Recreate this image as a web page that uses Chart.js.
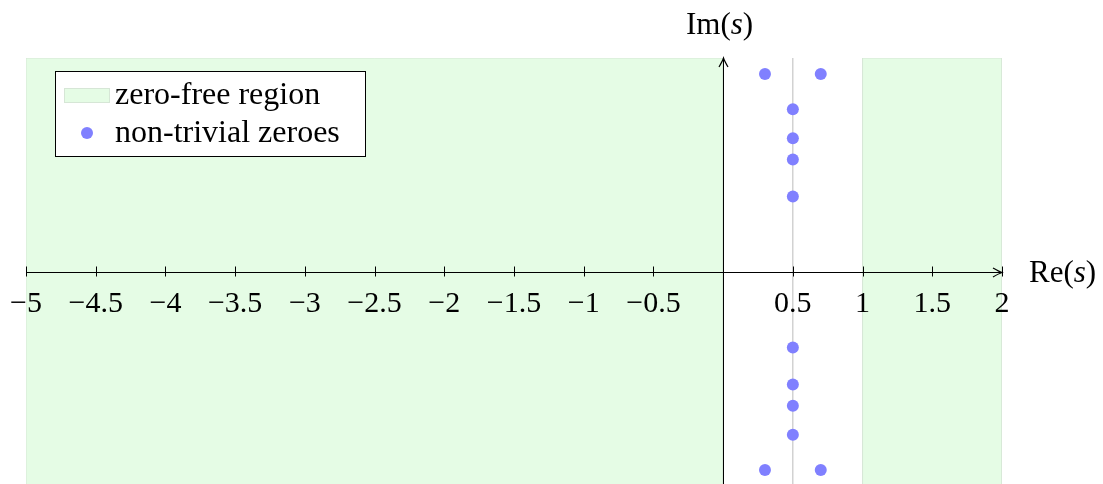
<!DOCTYPE html>
<html>
<head>
<meta charset="utf-8">
<script src="https://cdn.jsdelivr.net/npm/chart.js@4.4.0/dist/chart.umd.min.js"></script>
<style>
  html, body { margin: 0; padding: 0; background: #fff; overflow: hidden; }
  #wrap { width: 1103px; height: 492px; }
</style>
</head>
<body>
<div id="wrap"><canvas id="chart"></canvas></div>
<script>
// axis ranges and ticks
const xRange = [-5, 2];
const yRange = [-40, 40];
const xTicks = [-5, -4.5, -4, -3.5, -3, -2.5, -2, -1.5, -1, -0.5, 0, 0.5, 1, 1.5, 2];

// zero-free strips (Re(s) from..to) and the critical line
const zeroFreeLeft = [-5, 0];
const zeroFreeRight = [1, 2];
const criticalLine = 0.5;

// non-trivial zeroes
const zeroRe = [0.5, 0.5, 0.5, 0.5, 0.3, 0.7, 0.5, 0.5, 0.5, 0.5, 0.3, 0.7];
const zeroIm = [14.13, 21.02, 25.01, 30.42, 37, 37, -14.13, -21.02, -25.01, -30.42, -37, -37];

const SERIF = '"Liberation Serif", "DejaVu Serif", serif';
const GREEN = '#e5fce5';
const GREEN_EDGE = '#d6e6d6';
const BLUE = '#8080ff';

function strip(r) {
    return [
        { x: r[0], y: yRange[0] },
        { x: r[0], y: yRange[1] },
        { x: r[1], y: yRange[1] },
        { x: r[1], y: yRange[0] }
    ];
}

const zeroPoints = zeroRe.map((re, i) => ({ x: re, y: zeroIm[i] }));

// axes sit inside the plot, so they should not push the plot area around
function noPadding(s) {
    s.paddingLeft = 0;
    s.paddingRight = 0;
    s.paddingTop = 0;
    s.paddingBottom = 0;
}

// draws the mixed upright / italic axis title like "Re(s)"
function mathLabel(ctx, parts, x, y, size) {
    parts.forEach(([txt, italic]) => {
        ctx.font = (italic ? 'italic ' : '') + size + 'px ' + SERIF;
        ctx.fillText(txt, x, y);
        x += ctx.measureText(txt).width;
    });
}

const axisExtras = {
    id: 'axisExtras',
    afterDraw(chart) {
        const ctx = chart.ctx;
        const xs = chart.scales.x;
        const ys = chart.scales.y;
        const x0 = Math.round(xs.getPixelForValue(0)) + 0.5;
        const y0 = Math.round(ys.getPixelForValue(0)) + 0.5;
        const area = chart.chartArea;

        ctx.save();
        ctx.strokeStyle = '#000';
        ctx.lineWidth = 1;

        // tick marks crossing the Re axis
        xTicks.forEach(v => {
            if (v === 0) return;
            const px = Math.round(xs.getPixelForValue(v)) + 0.5;
            ctx.beginPath();
            ctx.moveTo(px, y0 - 6);
            ctx.lineTo(px, y0 + 4);
            ctx.stroke();
        });

        // arrow heads
        ctx.lineWidth = 1.2;
        const xe = area.right;
        ctx.beginPath();
        ctx.moveTo(xe - 9, y0 - 4.5);
        ctx.quadraticCurveTo(xe - 3, y0 - 1, xe, y0);
        ctx.quadraticCurveTo(xe - 3, y0 + 1, xe - 9, y0 + 4.5);
        ctx.stroke();

        const ye = area.top;
        ctx.beginPath();
        ctx.moveTo(x0 - 4.5, ye + 9);
        ctx.quadraticCurveTo(x0 - 1, ye + 3, x0, ye);
        ctx.quadraticCurveTo(x0 + 1, ye + 3, x0 + 4.5, ye + 9);
        ctx.stroke();
        ctx.lineWidth = 1;

        // axis titles
        ctx.fillStyle = '#000';
        ctx.textBaseline = 'alphabetic';
        ctx.textAlign = 'left';
        mathLabel(ctx, [['Re(', false], ['s', true], [')', false]], 1029, 282, 31);
        mathLabel(ctx, [['Im(', false], ['s', true], [')', false]], 686, 34, 31);

        // legend
        const lx = 55.5, ly = 71.5, lw = 310, lh = 85;
        ctx.fillStyle = '#fff';
        ctx.fillRect(lx, ly, lw, lh);
        ctx.strokeStyle = '#000';
        ctx.strokeRect(lx, ly, lw, lh);

        const region = chart.data.datasets[2];
        ctx.fillStyle = region.backgroundColor;
        ctx.fillRect(64, 88, 46, 15);
        ctx.strokeStyle = region.borderColor;
        ctx.strokeRect(64.5, 88.5, 45, 14);

        const zeros = chart.data.datasets[0];
        ctx.fillStyle = zeros.backgroundColor;
        ctx.beginPath();
        ctx.arc(87, 133, 6, 0, Math.PI * 2);
        ctx.fill();

        ctx.fillStyle = '#000';
        ctx.font = '32px ' + SERIF;
        ctx.fillText(region.label, 115, 104);
        ctx.fillText(zeros.label, 115, 142);
        ctx.restore();
    }
};

new Chart(document.getElementById('chart'), {
    type: 'scatter',
    data: {
        datasets: [
            {
                label: 'non-trivial zeroes',
                data: zeroPoints,
                backgroundColor: BLUE,
                borderWidth: 0,
                pointRadius: 6,
                order: 0
            },
            {
                type: 'line',
                label: 'critical line',
                data: [{ x: criticalLine, y: yRange[0] }, { x: criticalLine, y: yRange[1] }],
                borderColor: '#bbbbbb',
                borderWidth: 1,
                pointRadius: 0,
                fill: false,
                order: 1
            },
            {
                type: 'line',
                label: 'zero-free region',
                data: strip(zeroFreeLeft),
                backgroundColor: GREEN,
                borderColor: GREEN_EDGE,
                borderWidth: 1,
                pointRadius: 0,
                fill: { value: yRange[0] },
                order: 2
            },
            {
                type: 'line',
                label: 'zero-free region',
                data: strip(zeroFreeRight),
                backgroundColor: GREEN,
                borderColor: GREEN_EDGE,
                borderWidth: 1,
                pointRadius: 0,
                fill: { value: yRange[0] },
                order: 3
            }
        ]
    },
    options: {
        responsive: true,
        maintainAspectRatio: false,
        animation: false,
        layout: { padding: { left: 26, right: 101, top: 58, bottom: 0 } },
        plugins: {
            legend: { display: false },
            tooltip: { enabled: false }
        },
        scales: {
            x: {
                type: 'linear',
                min: xRange[0],
                max: xRange[1],
                position: { y: 0 },
                afterBuildTicks: s => { s.ticks = xTicks.map(v => ({ value: v })); },
                afterFit: noPadding,
                grid: { display: false, drawTicks: false },
                border: { display: true, color: '#000', width: 1, z: 1 },
                ticks: {
                    z: 1,
                    autoSkip: false,
                    maxRotation: 0,
                    padding: 14,
                    color: '#000',
                    font: { family: SERIF, size: 30 },
                    callback: v => v === 0 ? '' : String(v).replace('-', '\u2212')
                }
            },
            y: {
                type: 'linear',
                min: yRange[0],
                max: yRange[1],
                position: { x: 0 },
                afterFit: noPadding,
                grid: { display: false, drawTicks: false },
                border: { display: true, color: '#000', width: 1, z: 1 },
                ticks: { display: false }
            }
        }
    },
    plugins: [axisExtras]
});
</script>
</body>
</html>
